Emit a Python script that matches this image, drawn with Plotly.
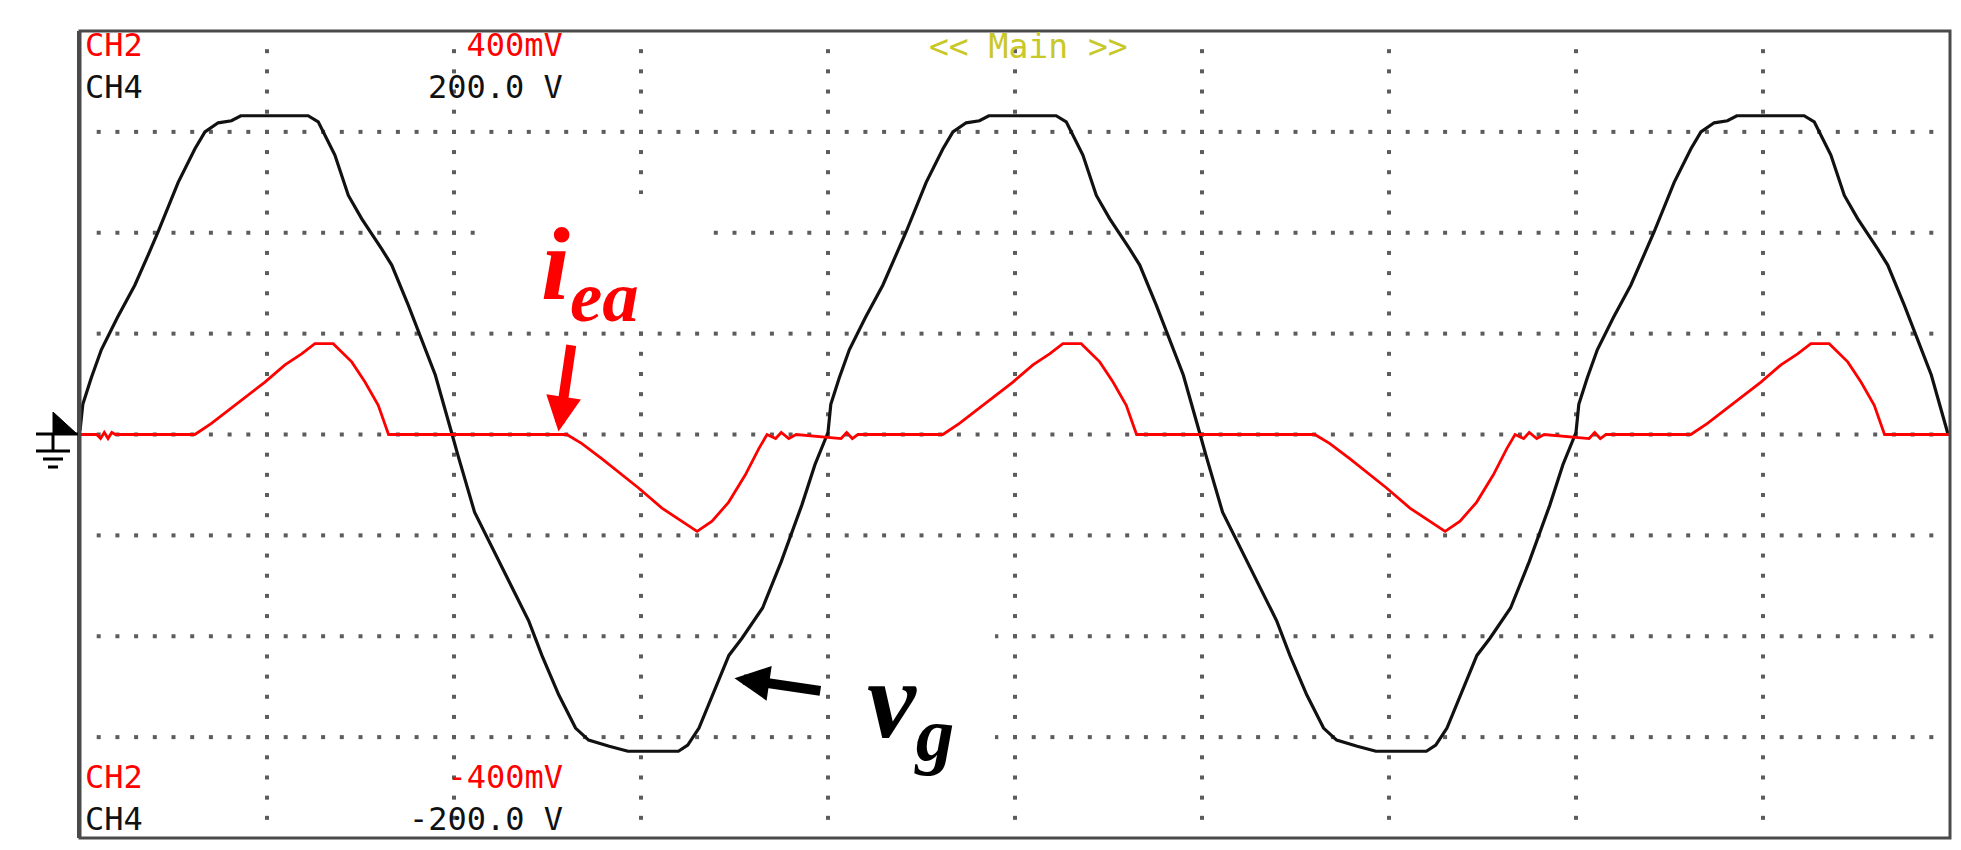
import numpy as np
import plotly.graph_objects as go

# ---------------- data (x in screen divisions, 10 div across) ----------------
# CH4: grid voltage v_g in volts (50 V/div, screen +-200 V)
t_vg = [0.00, 0.015, 0.06, 0.114, 0.20, 0.293, 0.36, 0.418, 0.525, 0.614, 0.668, 0.739, 0.81, 0.86, 1.00,
        1.22, 1.274, 1.31, 1.363, 1.435, 1.506, 1.613, 1.667, 1.756, 1.81, 1.90, 1.99, 2.02, 2.11, 2.18,
        2.29, 2.40, 2.47, 2.56, 2.65, 2.72, 2.83, 2.93, 3.20, 3.25, 3.31, 3.40, 3.47, 3.54, 3.65, 3.75,
        3.86, 3.93,
        4.00, 4.015, 4.06, 4.114, 4.20, 4.293, 4.36, 4.418, 4.525, 4.614, 4.668, 4.739, 4.81, 4.86, 5.00,
        5.22, 5.274, 5.31, 5.363, 5.435, 5.506, 5.613, 5.667, 5.756, 5.81, 5.90, 5.99, 6.02, 6.11, 6.18,
        6.29, 6.40, 6.47, 6.56, 6.65, 6.72, 6.83, 6.93, 7.20, 7.25, 7.31, 7.40, 7.47, 7.54, 7.65, 7.75,
        7.86, 7.93,
        8.00, 8.015, 8.06, 8.114, 8.20, 8.293, 8.36, 8.418, 8.525, 8.614, 8.668, 8.739, 8.81, 8.86, 9.00,
        9.22, 9.274, 9.31, 9.363, 9.435, 9.506, 9.613, 9.667, 9.756, 9.81, 9.90, 9.99]
vg = [2, 15, 28, 42, 58, 74, 88, 100.5, 125, 141.5, 150, 154.5, 155.5, 158, 158,
      158, 155, 148, 138.5, 118.5, 107, 92, 84, 64, 51, 29.5, 0, -10, -38.5, -51.5,
      -71.5, -92.5, -109.5, -129, -145.5, -151.5, -154.5, -157, -157, -154, -145.5, -125.5, -109.5, -101, -86, -63,
      -35, -15,
      1, 15, 28, 42, 58, 74, 88, 100.5, 125, 141.5, 150, 154.5, 155.5, 158, 158,
      158, 155, 148, 138.5, 118.5, 107, 92, 84, 64, 51, 29.5, 0, -10, -38.5, -51.5,
      -71.5, -92.5, -109.5, -129, -145.5, -151.5, -154.5, -157, -157, -154, -145.5, -125.5, -109.5, -101, -86, -63,
      -35, -15,
      1, 15, 28, 42, 58, 74, 88, 100.5, 125, 141.5, 150, 154.5, 155.5, 158, 158,
      158, 155, 148, 138.5, 118.5, 107, 92, 84, 64, 51, 29.5, 0]

# CH2: current i_ea in mV (100 mV/div, screen +-400 mV)
t_iea = [0.00, 0.09, 0.11, 0.13, 0.15, 0.17, 0.19, 0.614, 0.703, 0.792, 0.899, 0.989, 1.096, 1.185, 1.256,
         1.354, 1.453, 1.524, 1.595, 1.650, 2.603, 2.684, 2.79, 2.88, 2.987, 3.112, 3.219, 3.30, 3.38,
         3.469, 3.558, 3.63, 3.674, 3.72, 3.75, 3.79, 3.83, 4.07, 4.10, 4.13, 4.16,
         4.614, 4.703, 4.792, 4.899, 4.989, 5.096, 5.185, 5.256,
         5.354, 5.453, 5.524, 5.595, 5.650, 6.603, 6.684, 6.79, 6.88, 6.987, 7.112, 7.219, 7.30, 7.38,
         7.469, 7.558, 7.63, 7.674, 7.72, 7.75, 7.79, 7.83, 8.07, 8.10, 8.13, 8.16,
         8.614, 8.703, 8.792, 8.899, 8.989, 9.096, 9.185, 9.256,
         9.354, 9.453, 9.524, 9.595, 9.650, 10.0]
iea = [0, 0, -4, 2, -4, 2, 0, 0, 11, 24, 39, 52, 69, 80, 90,
       90, 72, 52, 29, 0, 0, -9, -24, -37, -53, -73, -86, -96, -86,
       -67, -40, -14, 0, -4, 2, -4, 0, -4, 2, -4, 0,
       0, 11, 24, 39, 52, 69, 80, 90,
       90, 72, 52, 29, 0, 0, -9, -24, -37, -53, -73, -86, -96, -86,
       -67, -40, -14, 0, -4, 2, -4, 0, -4, 2, -4, 0,
       0, 11, 24, 39, 52, 69, 80, 90,
       90, 72, 52, 29, 0, 0]

# ---------------- geometry helpers ----------------
W, H = 1961, 850
ML, MR, MT, MB = 72, 19, 23, 20
PW = W - ML - MR
PH = H - MT - MB


def px(x):
    return (x - ML) / PW


def py(y):
    return (H - MB - y) / PH


# graticule dots
gx, gy = [], []
for yl in [-150, -100, -50, 0, 50, 100, 150]:
    for k in range(1, 100):
        gx.append(k * 0.1)
        gy.append(yl)
for xl in range(1, 10):
    for k in range(-19, 20):
        gx.append(xl)
        gy.append(k * 10)

fig = go.Figure()
fig.add_trace(go.Scatter(x=gx, y=gy, mode="markers", yaxis="y",
                         marker=dict(symbol="square", size=4, color="#5c5c5c", line=dict(width=0)),
                         hoverinfo="skip", showlegend=False))
fig.add_trace(go.Scatter(x=t_iea, y=iea, mode="lines", yaxis="y2",
                         line=dict(color="rgb(255,0,0)", width=2.8), hoverinfo="skip", showlegend=False))
fig.add_trace(go.Scatter(x=t_vg, y=vg, mode="lines", yaxis="y",
                         line=dict(color="#111111", width=3.2), hoverinfo="skip", showlegend=False))

shapes = []
# white masks behind the pasted labels
shapes.append(dict(type="rect", xref="paper", yref="paper", x0=px(481), x1=px(694), y0=py(319), y1=py(186),
                   fillcolor="white", line=dict(width=0), layer="above"))
shapes.append(dict(type="rect", xref="paper", yref="paper", x0=px(826), x1=px(987), y0=py(800), y1=py(600),
                   fillcolor="white", line=dict(width=0), layer="above"))
# screen frame
shapes.append(dict(type="rect", xref="paper", yref="paper", x0=0, x1=1, y0=0, y1=1,
                   line=dict(color="#4a4a4a", width=3), layer="above"))
shapes.append(dict(type="line", xref="paper", yref="paper", x0=px(71), x1=px(71), y0=0, y1=1,
                   line=dict(color="#4a4a4a", width=4), layer="above"))
# ground marker
shapes.append(dict(type="path", xref="paper", yref="paper",
                   path=f"M{px(45)},{py(404)} L{px(45)},{py(426)} L{px(69)},{py(426)} Z",
                   fillcolor="black", line=dict(color="black", width=1), layer="above"))
for (x0, x1, yy, w) in [(28, 70, 426, 3), (28, 62, 443, 3), (35, 55, 451, 3), (40, 50, 459, 3)]:
    shapes.append(dict(type="line", xref="paper", yref="paper", x0=px(x0), x1=px(x1), y0=py(yy), y1=py(yy),
                       line=dict(color="black", width=w), layer="above"))
shapes.append(dict(type="line", xref="paper", yref="paper", x0=px(45), x1=px(45), y0=py(426), y1=py(443),
                   line=dict(color="black", width=3), layer="above"))

mono = "DejaVu Sans Mono"
RED = "rgb(255,0,0)"
DARK = "#111111"
ann = []


def block(lines, x, y, anchor):
    text = "<br>".join(f'<span style="color:{c}">{t}</span>' for t, c in lines)
    ann.append(dict(text=text, xref="paper", yref="paper", x=px(x), y=py(y), xanchor=anchor, yanchor="middle",
                    align=anchor, showarrow=False, font=dict(family=mono, size=32, color=DARK)))


block([("CH2", RED), ("CH4", DARK)], 75, 58, "left")
block([("400mV", RED), ("200.0 V", DARK)], 557, 58, "right")
block([("CH2", RED), ("CH4", DARK)], 75, 790, "left")
block([("-400mV", RED), ("-200.0 V", DARK)], 557, 790, "right")
ann.append(dict(text="&lt;&lt; Main &gt;&gt;", xref="paper", yref="paper", x=px(1021), y=py(39),
                xanchor="center", yanchor="middle", showarrow=False,
                font=dict(family=mono, size=33, color="#c8c828")))

# trace labels
ann.append(dict(text="<b><i>i<sub>ea</sub></i></b>", xref="paper", yref="paper", x=px(582), y=py(263),
                xanchor="center", yanchor="middle", showarrow=False,
                font=dict(family="Liberation Serif", size=104, color=RED)))
ann.append(dict(text="<b><i>v<sub>g</sub></i></b>", xref="paper", yref="paper", x=px(902), y=py(700),
                xanchor="center", yanchor="middle", showarrow=False,
                font=dict(family="Liberation Serif", size=110, color="black")))
# arrows
ann.append(dict(text="", x=2.559, y=3, xref="x", yref="y2", ax=2.628, ay=90, axref="x", ayref="y2",
                showarrow=True, arrowhead=2, arrowsize=0.7, arrowwidth=10, arrowcolor=RED, standoff=0))
ann.append(dict(text="", x=3.50, y=-120.8, xref="x", yref="y", ax=3.967, ay=-127.2, axref="x", ayref="y",
                showarrow=True, arrowhead=2, arrowsize=0.7, arrowwidth=10, arrowcolor="black", standoff=0))

fig.update_layout(
    width=W, height=H,
    margin=dict(l=ML, r=MR, t=MT, b=MB, pad=0),
    paper_bgcolor="white", plot_bgcolor="white",
    xaxis=dict(range=[0, 10], visible=False, fixedrange=True),
    yaxis=dict(range=[-200, 200], visible=False, fixedrange=True),
    yaxis2=dict(range=[-400, 400], visible=False, overlaying="y", fixedrange=True),
    shapes=shapes, annotations=ann, showlegend=False, hovermode=False,
)

fig.write_html("out.html", config={"displayModeBar": False})
